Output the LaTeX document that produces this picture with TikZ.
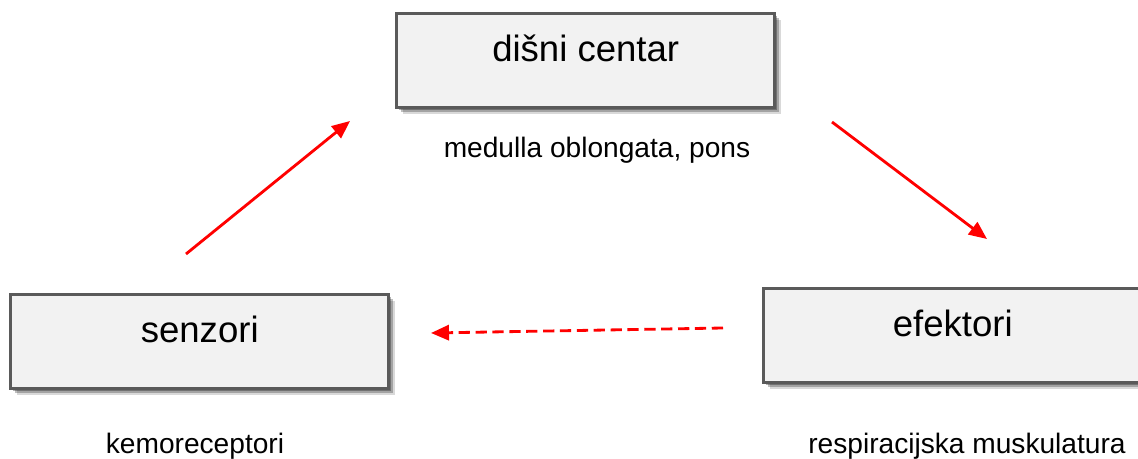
\documentclass[tikz,border=0pt]{standalone}
\usepackage{fontspec}
\setmainfont{Liberation Sans}
\usetikzlibrary{arrows.meta,shadows}
\definecolor{boxgray}{HTML}{F2F2F2}
\definecolor{linegray}{HTML}{5A5A5A}
\tikzset{
  stagebox/.style={draw=linegray, line width=2.4pt, fill=boxgray,
    minimum width=9.45cm, minimum height=2.35cm, inner sep=0pt,
    text height=1.2cm, text depth=1.15cm,
    font=\fontsize{26}{31}\selectfont,
    drop shadow={shadow xshift=0.16cm, shadow yshift=-0.16cm, opacity=0.15, fill=black},
    drop shadow={shadow xshift=0.11cm, shadow yshift=-0.11cm, opacity=0.25, fill=black},
    drop shadow={shadow xshift=0.06cm, shadow yshift=-0.06cm, opacity=0.3, fill=black}},
  sitelabel/.style={anchor=base, font=\fontsize{20}{24}\selectfont},
  loop/.style={red, line width=2pt, -{Triangle[length=0.45cm, width=0.38cm]}}
}
\begin{document}
\begin{tikzpicture}[x=0.025cm, y=-0.025cm]
    \useasboundingbox (0,0) rectangle (1138,459);
    \node[stagebox, anchor=north west] (centar) at (395,12) {dišni centar};
    \node[stagebox, anchor=north west] (senzori) at (9,293) {senzori};
    \node[stagebox, anchor=north west] (efektori) at (762,287) {efektori};
    \node[sitelabel] (mozak) at (597,158) {medulla oblongata, pons};
    \node[sitelabel] (kemo) at (195,453) {kemoreceptori};
    \node[sitelabel] (misici) at (967,453) {respiracijska muskulatura};
    \coordinate (s-out) at (186,254);
    \coordinate (c-in) at (350,121);
    \coordinate (c-out) at (832,122);
    \coordinate (e-in) at (987,239);
    \coordinate (e-out) at (723,328);
    \coordinate (s-in) at (431,333);
    \draw[loop] (s-out) -- (c-in);
    \draw[loop] (c-out) -- (e-in);
    \draw[loop, dash pattern=on 8pt off 4pt] (e-out) -- (s-in);
\end{tikzpicture}
\end{document}
